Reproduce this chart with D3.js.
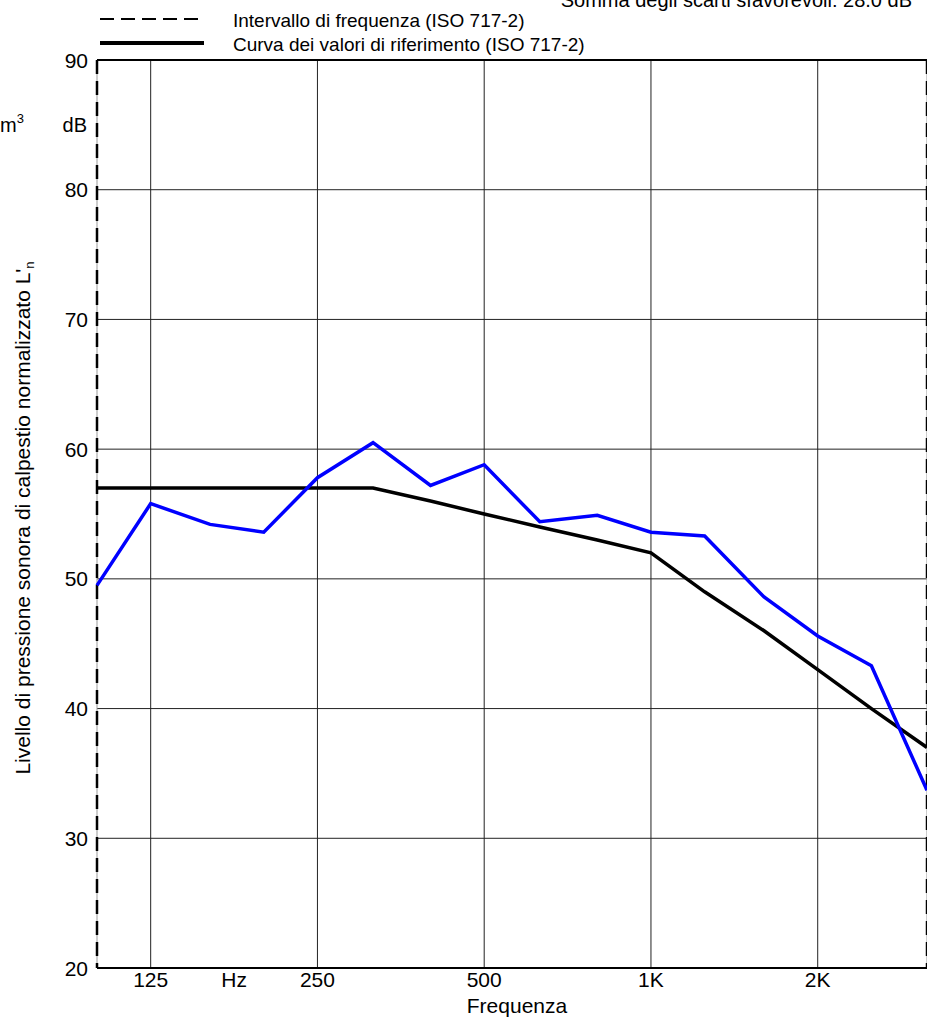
<!DOCTYPE html>
<html>
<head>
<meta charset="utf-8">
<script src="https://cdn.jsdelivr.net/npm/d3@7"></script>
<style>
  html, body { margin: 0; padding: 0; background: #fff; }
  svg { display: block; font-family: "Liberation Sans", Arial, sans-serif; }
</style>
</head>
<body>
<svg id="chart" width="927" height="1019"></svg>
<script>
// One-third octave band centre frequencies (Hz)
const frequencies = [100, 125, 160, 200, 250, 315, 400, 500, 630, 800, 1000, 1250, 1600, 2000, 2500, 3150];
// Measured normalized impact sound pressure level L'n (dB)
const measured = [49.5, 55.8, 54.2, 53.6, 57.8, 60.5, 57.2, 58.8, 54.4, 54.9, 53.6, 53.3, 48.6, 45.6, 43.3, 33.7];
// Shifted reference curve (ISO 717-2)
const reference = [57, 57, 57, 57, 57, 57, 56, 55, 54, 53, 52, 49, 46, 43, 40, 37];

const xTickValues = [125, 250, 500, 1000, 2000];
const xTickLabels = ["125", "250", "500", "1K", "2K"];
const yTickValues = [20, 30, 40, 50, 60, 70, 80, 90];

const svg = d3.select("#chart");
const plotLeft = 97, plotRight = 927, plotTop = 60, plotBottom = 968;

const x = d3.scaleLog().domain([100, 3150]).range([plotLeft, plotRight]);
const y = d3.scaleLinear().domain([20, 90]).range([plotBottom, plotTop]);

// Grid
const grid = svg.append("g");
grid.selectAll("line.h").data(yTickValues.filter(v => v > 20 && v < 90)).join("line")
  .attr("class", "h")
  .attr("x1", plotLeft).attr("x2", plotRight)
  .attr("y1", d => y(d)).attr("y2", d => y(d))
  .attr("stroke", "#222").attr("stroke-width", 1);
grid.selectAll("line.v").data(xTickValues).join("line")
  .attr("class", "v")
  .attr("x1", d => x(d)).attr("x2", d => x(d))
  .attr("y1", plotTop).attr("y2", plotBottom)
  .attr("stroke", "#222").attr("stroke-width", 1);

// Frame: solid top and bottom, dashed frequency-range limits
svg.append("line").attr("x1", plotLeft).attr("x2", plotRight).attr("y1", plotTop).attr("y2", plotTop)
  .attr("stroke", "#000").attr("stroke-width", 2);
svg.append("line").attr("x1", plotLeft).attr("x2", plotRight).attr("y1", plotBottom).attr("y2", plotBottom)
  .attr("stroke", "#000").attr("stroke-width", 2);
[100, 3150].forEach(f => {
  svg.append("line").attr("x1", x(f)).attr("x2", x(f)).attr("y1", plotTop).attr("y2", plotBottom)
    .attr("stroke", "#999").attr("stroke-width", 1);
  svg.append("line").attr("x1", x(f)).attr("x2", x(f)).attr("y1", plotTop).attr("y2", plotBottom)
    .attr("stroke", "#000").attr("stroke-width", 2.5).attr("stroke-dasharray", "14,7");
});

// Y tick labels
svg.append("g").selectAll("text").data(yTickValues).join("text")
  .attr("x", 88).attr("y", d => y(d)).attr("dy", "0.36em")
  .attr("text-anchor", "end").attr("font-size", 21).text(d => d);

// X tick labels
svg.append("g").selectAll("text").data(xTickValues).join("text")
  .attr("x", d => x(d)).attr("y", 987)
  .attr("text-anchor", "middle").attr("font-size", 21)
  .text((d, i) => xTickLabels[i]);
svg.append("text").attr("x", x(Math.sqrt(125 * 250))).attr("y", 987)
  .attr("text-anchor", "middle").attr("font-size", 21).text("Hz");

// Axis titles
svg.append("text").attr("x", 517).attr("y", 1013)
  .attr("text-anchor", "middle").attr("font-size", 21).text("Frequenza");
svg.append("text").attr("x", 87).attr("y", 132)
  .attr("text-anchor", "end").attr("font-size", 20).text("dB");
const yTitle = svg.append("text")
  .attr("transform", "translate(30,518) rotate(-90)")
  .attr("text-anchor", "middle").attr("font-size", 21);
yTitle.append("tspan").text("Livello di pressione sonora di calpestio normalizzato L'");
yTitle.append("tspan").attr("font-size", 13).attr("dy", 4).text("n");

// Volume unit fragment at far left
const mText = svg.append("text").attr("x", 0).attr("y", 132).attr("font-size", 20);
mText.append("tspan").text("m");
mText.append("tspan").attr("font-size", 13).attr("dy", -9).text("3");

// Header text
svg.append("text").attr("x", 912).attr("y", 7)
  .attr("text-anchor", "end").attr("font-size", 20)
  .text("Somma degli scarti sfavorevoli: 28.0 dB");

// Legend
svg.append("line").attr("x1", 100).attr("x2", 204).attr("y1", 19).attr("y2", 19)
  .attr("stroke", "#000").attr("stroke-width", 2).attr("stroke-dasharray", "14,7");
svg.append("text").attr("x", 233).attr("y", 27).attr("font-size", 19)
  .text("Intervallo di frequenza (ISO 717-2)");
svg.append("line").attr("x1", 100).attr("x2", 204).attr("y1", 43).attr("y2", 43)
  .attr("stroke", "#000").attr("stroke-width", 4);
svg.append("text").attr("x", 233).attr("y", 51).attr("font-size", 19)
  .text("Curva dei valori di riferimento (ISO 717-2)");

// Curves
const line = d3.line().x(d => x(d[0])).y(d => y(d[1]));
svg.append("path").datum(frequencies.map((f, i) => [f, reference[i]]))
  .attr("d", line).attr("fill", "none").attr("stroke", "#000")
  .attr("stroke-width", 3.5).attr("stroke-linejoin", "miter");
svg.append("path").datum(frequencies.map((f, i) => [f, measured[i]]))
  .attr("d", line).attr("fill", "none").attr("stroke", "#0000ff")
  .attr("stroke-width", 3.5).attr("stroke-linejoin", "miter");
</script>
</body>
</html>
